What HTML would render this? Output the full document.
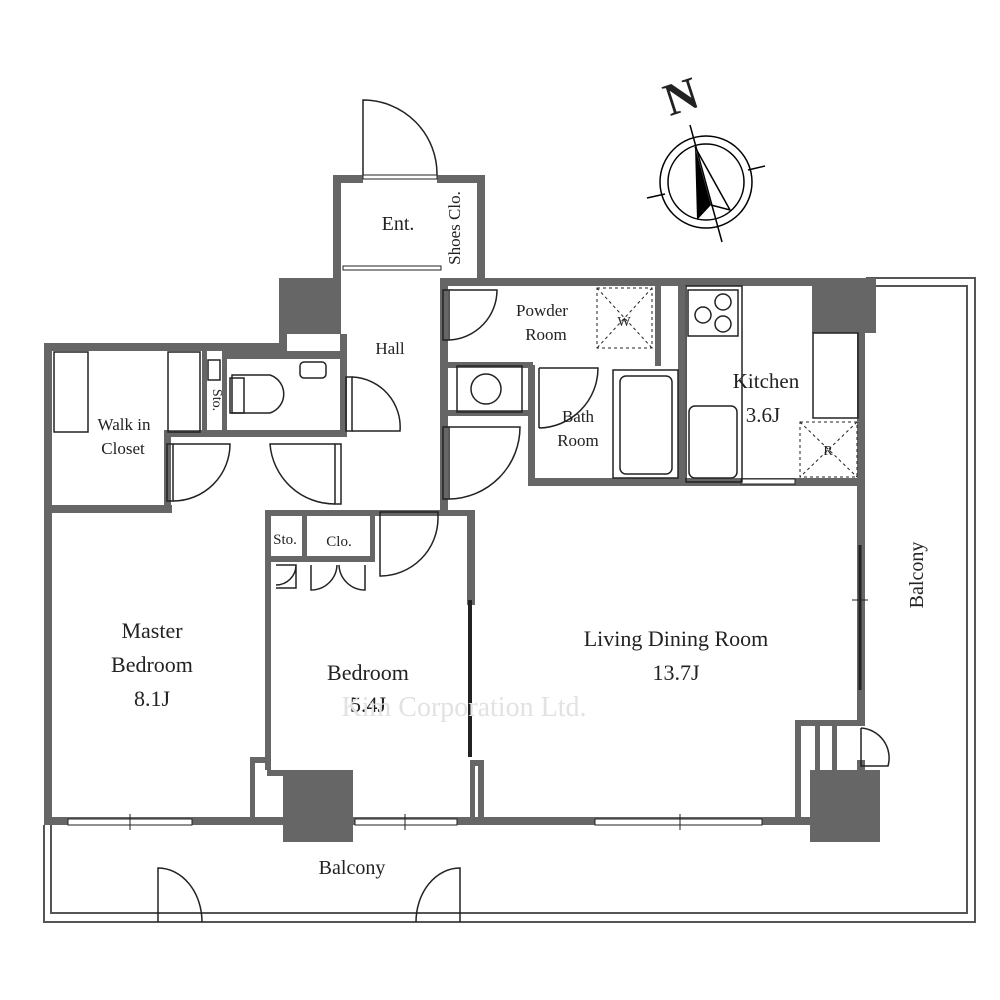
<!DOCTYPE html>
<html><head><meta charset="utf-8"><style>
html,body{margin:0;padding:0;background:#fff}
svg{display:block}
text{font-family:"Liberation Serif",serif;fill:#222}
</style></head><body>
<svg width="1000" height="1000" viewBox="0 0 1000 1000" xmlns="http://www.w3.org/2000/svg">
<rect width="1000" height="1000" fill="#fff"/>
<g fill="none" stroke="#555" stroke-width="2">
<polyline points="44,825 44,922 975,922 975,278 866,278"/>
<polyline points="51,825 51,913 967,913 967,286 876,286"/>
</g>
<g fill="#666">
<rect x="333" y="175" width="8" height="105"/>
<rect x="333" y="175" width="30" height="8"/>
<rect x="437" y="175" width="48" height="8"/>
<rect x="477" y="175" width="8" height="105"/>
<rect x="279" y="278" width="62" height="56"/>
<rect x="279" y="278" width="8" height="73"/>
<rect x="440" y="278" width="436" height="8"/>
<rect x="44" y="343" width="243" height="8"/>
<rect x="44" y="343" width="8" height="482"/>
<rect x="44" y="817" width="822" height="8"/>
<rect x="283" y="770" width="70" height="72"/>
<rect x="810" y="770" width="70" height="72"/>
<rect x="812" y="283" width="64" height="50"/>
<rect x="857" y="286" width="8" height="440"/>
<rect x="857" y="760" width="8" height="10"/>
<rect x="440" y="278" width="8" height="232"/>
<rect x="340" y="334" width="7" height="100"/>
<rect x="222" y="351" width="120" height="8"/>
<rect x="165" y="430" width="182" height="7"/>
<rect x="202" y="351" width="5" height="82"/>
<rect x="222" y="351" width="5" height="82"/>
<rect x="44" y="505" width="128" height="8"/>
<rect x="164" y="430" width="7" height="83"/>
<rect x="528" y="478" width="337" height="8"/>
<rect x="528" y="365" width="7" height="120"/>
<rect x="448" y="362" width="85" height="6"/>
<rect x="448" y="410" width="80" height="6"/>
<rect x="655" y="286" width="6" height="80"/>
<rect x="678" y="286" width="7" height="195"/>
<rect x="265" y="510" width="210" height="6"/>
<rect x="265" y="510" width="6" height="260"/>
<rect x="250" y="757" width="21" height="6"/>
<rect x="250" y="757" width="5" height="63"/>
<rect x="267" y="770" width="20" height="6"/>
<rect x="467" y="510" width="8" height="95"/>
<rect x="470" y="760" width="14" height="6"/>
<rect x="478" y="760" width="6" height="60"/>
<rect x="470" y="760" width="5" height="60"/>
<rect x="265" y="556" width="110" height="6"/>
<rect x="302" y="512" width="5" height="48"/>
<rect x="370" y="512" width="5" height="48"/>
<rect x="795" y="720" width="70" height="6"/>
<rect x="795" y="720" width="6" height="100"/>
<rect x="815" y="720" width="5" height="50"/>
<rect x="832" y="720" width="5" height="50"/>
</g>
<g fill="#fff" stroke="#222" stroke-width="1">
<rect x="68" y="819" width="124" height="6"/>
<rect x="355" y="819" width="102" height="6"/>
<rect x="595" y="819" width="167" height="6"/>
<rect x="343" y="266" width="98" height="4"/>
<rect x="363" y="175" width="74" height="4"/>
<rect x="741" y="479" width="54" height="5"/>
</g>
<g stroke="#222" stroke-width="1">
<line x1="130" y1="814" x2="130" y2="830"/><line x1="405" y1="814" x2="405" y2="830"/><line x1="680" y1="814" x2="680" y2="830"/>
<line x1="470" y1="600" x2="470" y2="757" stroke-width="4"/>
<line x1="860" y1="545" x2="860" y2="690" stroke-width="3"/>
<line x1="852" y1="600" x2="868" y2="600"/>
</g>
<g fill="none" stroke="#222" stroke-width="1.5">
<path d="M363,175 L363,100 A74,74 0 0 1 437,175"/>
<rect x="346" y="377" width="6" height="54"/><path d="M352,377 A50,50 0 0 1 400,431 L352,431"/>
<rect x="443" y="290" width="6" height="50"/><path d="M449,290 L497,290 A50,50 0 0 1 449,340"/>
<rect x="443" y="427" width="6" height="72"/><path d="M449,427 L520,427 A72,72 0 0 1 449,499"/>
<path d="M539,368 L539,428 M539,368 L598,368 A60,60 0 0 1 539,428"/>
<rect x="167" y="444" width="6" height="57"/><path d="M173,444 L230,444 A57,57 0 0 1 173,501"/>
<rect x="335" y="444" width="6" height="60"/><path d="M335,444 L270,444 A65,65 0 0 0 335,504"/>
<path d="M380,512 L438,512 L438,518 A58,58 0 0 1 380,576 Z"/>
<path d="M276,565 L296,565 L296,588 L276,588 M296,565 A20,20 0 0 1 276,585"/>
<path d="M311,565 L311,590 A26,26 0 0 0 337,565 M365,565 L365,590 A26,26 0 0 1 339,565"/>
<path d="M861,728 L861,766 L888,766 A30,30 0 0 0 861,728"/>
<path d="M158,922 L158,868 A44,54 0 0 1 202,922"/>
<path d="M460,922 L460,868 A44,54 0 0 0 416,922"/>
<rect x="54" y="352" width="34" height="80"/><rect x="168" y="352" width="32" height="80"/>
<rect x="208" y="360" width="12" height="20"/>
<path d="M232,375 L270,375 A20,20 0 0 1 270,413 L232,413 Z"/>
<rect x="230" y="378" width="14" height="35"/>
<rect x="300" y="362" width="26" height="16" rx="4"/>
<rect x="457" y="366" width="65" height="46"/><circle cx="486" cy="389" r="15"/>
<rect x="613" y="370" width="65" height="108"/><rect x="620" y="376" width="52" height="98" rx="6"/>
<rect x="686" y="286" width="56" height="196"/>
<rect x="688" y="290" width="50" height="46"/>
<circle cx="703" cy="315" r="8"/><circle cx="723" cy="302" r="8"/><circle cx="723" cy="324" r="8"/>
<rect x="689" y="406" width="48" height="72" rx="6"/>
<rect x="813" y="333" width="45" height="85"/>
</g>
<g fill="none" stroke="#222" stroke-width="1" stroke-dasharray="3,3">
<rect x="597" y="288" width="55" height="60"/><path d="M597,288 L652,348 M652,288 L597,348"/>
<rect x="800" y="422" width="57" height="55"/><path d="M800,422 L857,477 M857,422 L800,477"/>
</g>
<g fill="none" stroke="#000" stroke-width="1.5">
<circle cx="706" cy="182" r="46"/><circle cx="706" cy="182" r="38"/>
<line x1="690" y1="125" x2="722" y2="242"/>
<line x1="647" y1="198" x2="665" y2="194"/><line x1="748" y1="170" x2="765" y2="166"/>
<path d="M695,147 L730,210 L711,205"/>
</g>
<path d="M695,147 L711,205 L697,220 Z" fill="#000"/>
<text x="664" y="112" font-size="46" font-weight="bold" fill="#000" transform="rotate(-18 680 95)">N</text>
<g font-size="20" text-anchor="middle">
<text x="398" y="230">Ent.</text>
<text x="390" y="354" font-size="17">Hall</text>
<text x="542" y="316" font-size="17">Powder</text><text x="546" y="340" font-size="17">Room</text>
<text x="578" y="422" font-size="17">Bath</text><text x="578" y="446" font-size="17">Room</text>
<text x="766" y="388" font-size="21">Kitchen</text><text x="763" y="422" font-size="21">3.6J</text>
<text x="124" y="430" font-size="17">Walk in</text><text x="123" y="454" font-size="17">Closet</text>
<text x="285" y="544" font-size="15">Sto.</text><text x="339" y="546" font-size="15">Clo.</text>
<text x="152" y="638" font-size="22">Master</text><text x="152" y="672" font-size="22">Bedroom</text><text x="152" y="706" font-size="22">8.1J</text>
<text x="368" y="680" font-size="22">Bedroom</text><text x="368" y="712" font-size="22">5.4J</text>
<text x="676" y="646" font-size="22">Living Dining Room</text><text x="676" y="680" font-size="22">13.7J</text>
<text x="352" y="874">Balcony</text>
<text x="464" y="716" font-size="28" style="fill:#e2e2e2">Kim Corporation Ltd.</text>
<text x="923" y="575" transform="rotate(-90 923 575)">Balcony</text>
<text x="460" y="228" font-size="17" transform="rotate(-90 460 228)">Shoes Clo.</text>
<text x="213" y="400" font-size="14" transform="rotate(90 213 400)">Sto.</text>
<text x="624" y="326" font-size="14">W</text><text x="828" y="455" font-size="14">R</text>
</g>
</svg>
</body></html>
